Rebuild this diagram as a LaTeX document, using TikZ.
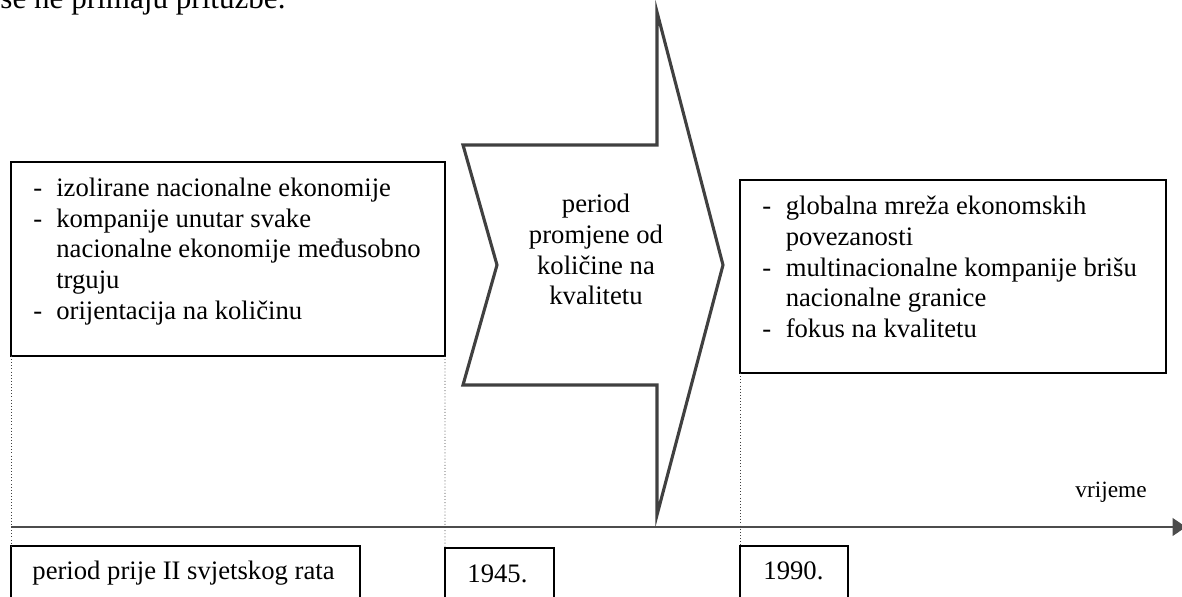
\documentclass[tikz,border=0pt]{standalone}
\usepackage{fontspec}
\setmainfont{Liberation Serif}
\usetikzlibrary{arrows.meta,positioning}

\tikzset{
  okvir/.style={draw, line width=1pt, inner sep=0pt, outer sep=0pt, anchor=north west},
  tekst/.style={inner sep=0pt, anchor=base west, font=\fontsize{12}{13.8}\selectfont},
  vodilica/.style={densely dotted, line width=0.4pt, black!75},
  strelica/.style={draw=black!75, line width=1.4pt, line join=miter},
}

\begin{document}
\begin{tikzpicture}[x=0.45pt, y=-0.45pt]
\useasboundingbox (0,0) rectangle (1182,597);
\clip (0,0) rectangle (1182,597);

% tekst iznad slike
\node[tekst, font=\fontsize{14}{16}\selectfont] (naslov) at (0,8.5) {se ne primaju pritužbe.};

% okviri
\node[okvir, minimum width=195.3pt, minimum height=87.3pt] (prije) at (11,162) {};
\node[okvir, minimum width=191.7pt, minimum height=86.9pt] (poslije) at (740,180) {};
\node[tekst] (prijetxt) at (33,196.5) {\begin{tabular}[t]{@{}p{10.3pt}@{}l@{}}
- & izolirane nacionalne ekonomije\\
- & kompanije unutar svake\\
  & nacionalne ekonomije međusobno\\
  & trguju\\
- & orijentacija na količinu
\end{tabular}};
\node[tekst] (poslijetxt) at (762,215) {\begin{tabular}[t]{@{}p{10.5pt}@{}l@{}}
- & globalna mreža ekonomskih\\
  & povezanosti\\
- & multinacionalne kompanije brišu\\
  & nacionalne granice\\
- & fokus na kvalitetu
\end{tabular}};

% strelica promjene
\draw[strelica] (463,145) -- (657,145) -- (657,12) -- (723,265) -- (657,515)
  -- (657,385) -- (463,385) -- (497,265) -- cycle;
\node[tekst, anchor=base] (promjena) at (596,213) {\begin{tabular}[t]{@{}c@{}}
period\\ promjene od\\ količine na\\ kvalitetu
\end{tabular}};

% vremenska os
\coordinate (os0) at (11,527);
\coordinate (os1) at (1186,527);
\draw[black!70, line width=0.6pt, -{Triangle[length=6pt, width=8pt]}, shorten >=0pt] (os0) -- (os1);
\node[tekst, font=\fontsize{10.5}{12}\selectfont] (vrijeme) at (1075,498) {vrijeme};

% razdoblja
\node[okvir, minimum width=157pt, minimum height=30pt] (razdoblje) at (11,546) {};
\node[okvir, minimum width=49pt, minimum height=30pt] (g1945) at (445,548) {};
\node[okvir, minimum width=48.6pt, minimum height=30pt] (g1990) at (740,546) {};
\node[tekst] (razdobljetxt) at (32,580) {period prije II svjetskog rata};
\node[tekst] (g1945txt) at (467,583) {1945.};
\node[tekst] (g1990txt) at (763,580) {1990.};

\draw[vodilica] (prije.south west) -- (razdoblje.north west);
\draw[vodilica] (prije.south east) -- (g1945.north west);
\draw[vodilica] (poslije.south west) -- (g1990.north west);
\end{tikzpicture}
\end{document}
